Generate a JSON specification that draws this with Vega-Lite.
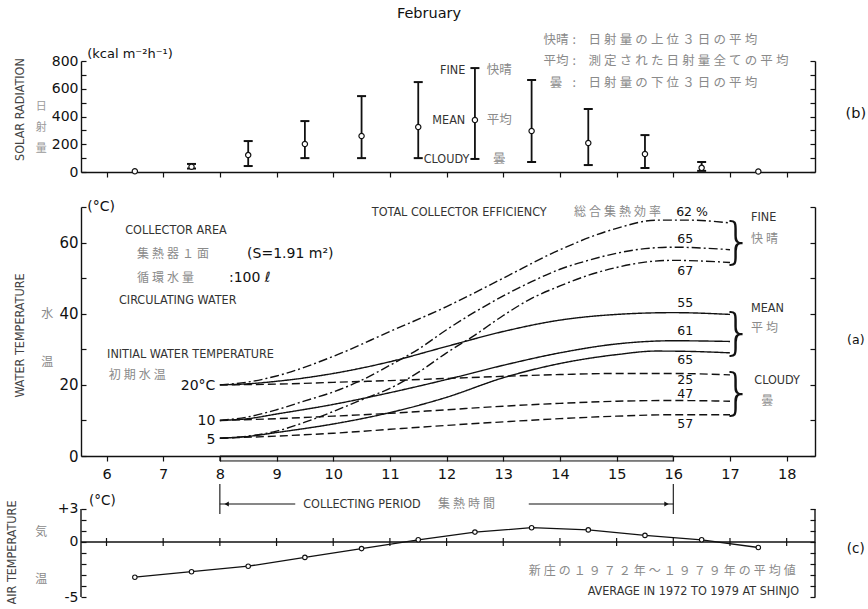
{
 "$schema": "https://vega.github.io/schema/vega-lite/v6.json",
 "background": "white",
 "padding": {"left": 5, "top": 5, "right": 0, "bottom": 0},
 "config": {
  "view": {"stroke": null},
  "font": "DejaVu Sans",
  "axis": {"grid": false, "domainColor": "#111", "tickColor": "#111", "labelColor": "#111", "labelFont": "DejaVu Sans", "labelFontSize": 14, "domainWidth": 1.4, "tickWidth": 1.2, "titleFont": "DejaVu Sans Condensed", "titleFontSize": 12.5, "titleFontWeight": "normal", "titleColor": "#444"}
 },
 "datasets": {
  "rad": [
   {"h":6.5,"mean":5,"lo":5,"hi":5},
   {"h":7.5,"mean":38,"lo":25,"hi":58},
   {"h":8.5,"mean":122,"lo":43,"hi":223},
   {"h":9.5,"mean":202,"lo":100,"hi":367},
   {"h":10.5,"mean":259,"lo":100,"hi":547},
   {"h":11.5,"mean":324,"lo":100,"hi":648},
   {"h":12.5,"mean":375,"lo":94,"hi":749},
   {"h":13.5,"mean":295,"lo":72,"hi":663},
   {"h":14.5,"mean":209,"lo":50,"hi":454},
   {"h":15.5,"mean":130,"lo":29,"hi":266},
   {"h":16.5,"mean":30,"lo":8,"hi":72},
   {"h":17.5,"mean":4,"lo":4,"hi":4}
  ],
  "curves": [
   {"h":8,"T":20,"s":"FINE","i":20},{"h":8.5,"T":20.8,"s":"FINE","i":20},{"h":9,"T":22.5,"s":"FINE","i":20},{"h":10,"T":28,"s":"FINE","i":20},{"h":11,"T":35,"s":"FINE","i":20},{"h":12,"T":42,"s":"FINE","i":20},{"h":13,"T":50,"s":"FINE","i":20},{"h":14,"T":58,"s":"FINE","i":20},{"h":15,"T":64,"s":"FINE","i":20},{"h":15.7,"T":66.3,"s":"FINE","i":20},{"h":16.3,"T":66.3,"s":"FINE","i":20},{"h":17,"T":65.5,"s":"FINE","i":20},
   {"h":8,"T":10,"s":"FINE","i":10},{"h":8.5,"T":11,"s":"FINE","i":10},{"h":9,"T":13,"s":"FINE","i":10},{"h":9.5,"T":15.5,"s":"FINE","i":10},{"h":10,"T":18,"s":"FINE","i":10},{"h":10.5,"T":21.3,"s":"FINE","i":10},{"h":11,"T":25.5,"s":"FINE","i":10},{"h":11.5,"T":30,"s":"FINE","i":10},{"h":12,"T":35.5,"s":"FINE","i":10},{"h":12.5,"T":40.5,"s":"FINE","i":10},{"h":13,"T":45,"s":"FINE","i":10},{"h":13.5,"T":49,"s":"FINE","i":10},{"h":14,"T":52.5,"s":"FINE","i":10},{"h":14.5,"T":55,"s":"FINE","i":10},{"h":15,"T":57,"s":"FINE","i":10},{"h":15.5,"T":58.3,"s":"FINE","i":10},{"h":16,"T":58.7,"s":"FINE","i":10},{"h":17,"T":58,"s":"FINE","i":10},
   {"h":8,"T":5,"s":"FINE","i":5},{"h":8.5,"T":5.6,"s":"FINE","i":5},{"h":9,"T":7,"s":"FINE","i":5},{"h":9.5,"T":9.5,"s":"FINE","i":5},{"h":10,"T":12.5,"s":"FINE","i":5},{"h":10.5,"T":15.8,"s":"FINE","i":5},{"h":11,"T":19,"s":"FINE","i":5},{"h":11.5,"T":23.5,"s":"FINE","i":5},{"h":12,"T":29,"s":"FINE","i":5},{"h":12.5,"T":34,"s":"FINE","i":5},{"h":13,"T":39.5,"s":"FINE","i":5},{"h":13.5,"T":44.3,"s":"FINE","i":5},{"h":14,"T":47.8,"s":"FINE","i":5},{"h":14.5,"T":50.8,"s":"FINE","i":5},{"h":15,"T":53,"s":"FINE","i":5},{"h":15.5,"T":54.5,"s":"FINE","i":5},{"h":16,"T":55,"s":"FINE","i":5},{"h":17,"T":54.4,"s":"FINE","i":5},
   {"h":8,"T":20,"s":"MEAN","i":20},{"h":8.5,"T":20.3,"s":"MEAN","i":20},{"h":9,"T":21,"s":"MEAN","i":20},{"h":10,"T":23.2,"s":"MEAN","i":20},{"h":11,"T":26.5,"s":"MEAN","i":20},{"h":12,"T":30.8,"s":"MEAN","i":20},{"h":13,"T":35,"s":"MEAN","i":20},{"h":14,"T":38.2,"s":"MEAN","i":20},{"h":15,"T":39.8,"s":"MEAN","i":20},{"h":16,"T":40.3,"s":"MEAN","i":20},{"h":17,"T":39.8,"s":"MEAN","i":20},
   {"h":8,"T":10,"s":"MEAN","i":10},{"h":8.5,"T":10.5,"s":"MEAN","i":10},{"h":9,"T":11.8,"s":"MEAN","i":10},{"h":10,"T":14.5,"s":"MEAN","i":10},{"h":11,"T":17.8,"s":"MEAN","i":10},{"h":12,"T":21.5,"s":"MEAN","i":10},{"h":13,"T":25.5,"s":"MEAN","i":10},{"h":14,"T":29,"s":"MEAN","i":10},{"h":15,"T":31.5,"s":"MEAN","i":10},{"h":16,"T":32.4,"s":"MEAN","i":10},{"h":17,"T":32.2,"s":"MEAN","i":10},
   {"h":8,"T":5,"s":"MEAN","i":5},{"h":8.5,"T":5.5,"s":"MEAN","i":5},{"h":9,"T":6.6,"s":"MEAN","i":5},{"h":10,"T":9,"s":"MEAN","i":5},{"h":11,"T":12.2,"s":"MEAN","i":5},{"h":12,"T":16.5,"s":"MEAN","i":5},{"h":13,"T":22,"s":"MEAN","i":5},{"h":14,"T":26,"s":"MEAN","i":5},{"h":15,"T":28.5,"s":"MEAN","i":5},{"h":15.7,"T":29.5,"s":"MEAN","i":5},{"h":16.3,"T":29.4,"s":"MEAN","i":5},{"h":17,"T":29,"s":"MEAN","i":5},
   {"h":8,"T":20,"s":"CLOUDY","i":20},{"h":9,"T":20.2,"s":"CLOUDY","i":20},{"h":10,"T":20.7,"s":"CLOUDY","i":20},{"h":11,"T":21.2,"s":"CLOUDY","i":20},{"h":12,"T":21.8,"s":"CLOUDY","i":20},{"h":13,"T":22.4,"s":"CLOUDY","i":20},{"h":14,"T":22.9,"s":"CLOUDY","i":20},{"h":15,"T":23.2,"s":"CLOUDY","i":20},{"h":16,"T":23.2,"s":"CLOUDY","i":20},{"h":17,"T":22.8,"s":"CLOUDY","i":20},
   {"h":8,"T":10,"s":"CLOUDY","i":10},{"h":9,"T":10.5,"s":"CLOUDY","i":10},{"h":10,"T":11.2,"s":"CLOUDY","i":10},{"h":11,"T":12,"s":"CLOUDY","i":10},{"h":12,"T":13,"s":"CLOUDY","i":10},{"h":13,"T":14,"s":"CLOUDY","i":10},{"h":14,"T":14.8,"s":"CLOUDY","i":10},{"h":15,"T":15.4,"s":"CLOUDY","i":10},{"h":16,"T":15.6,"s":"CLOUDY","i":10},{"h":17,"T":15.4,"s":"CLOUDY","i":10},
   {"h":8,"T":5,"s":"CLOUDY","i":5},{"h":9,"T":5.6,"s":"CLOUDY","i":5},{"h":10,"T":6.4,"s":"CLOUDY","i":5},{"h":11,"T":7.5,"s":"CLOUDY","i":5},{"h":12,"T":8.6,"s":"CLOUDY","i":5},{"h":13,"T":9.6,"s":"CLOUDY","i":5},{"h":14,"T":10.5,"s":"CLOUDY","i":5},{"h":15,"T":11.2,"s":"CLOUDY","i":5},{"h":16,"T":11.6,"s":"CLOUDY","i":5},{"h":17,"T":11.6,"s":"CLOUDY","i":5}
  ],
  "air": [
   {"h":6.5,"t":-3.2},{"h":7.5,"t":-2.7},{"h":8.5,"t":-2.2},{"h":9.5,"t":-1.4},{"h":10.5,"t":-0.6},{"h":11.5,"t":0.2},{"h":12.5,"t":0.9},{"h":13.5,"t":1.3},{"h":14.5,"t":1.1},{"h":15.5,"t":0.6},{"h":16.5,"t":0.2},{"h":17.5,"t":-0.5}
  ],
  "hours": [{"h":6},{"h":7},{"h":8},{"h":9},{"h":10},{"h":11},{"h":12},{"h":13},{"h":14},{"h":15},{"h":16},{"h":17},{"h":18}]
 },
 "spacing": 35,
 "bounds": "flush",
 "vconcat": [
    {
     "width": 734, "height": 111,
     "resolve": {"axis": {"x": "independent", "y": "independent"}},
     "layer": [
      {
       "data": {"name": "rad"},
       "mark": {"type": "rule", "strokeWidth": 1.8, "color": "#111"},
       "encoding": {
        "x": {"field": "h", "type": "quantitative", "scale": {"domain": [5.55, 18.5], "nice": false, "zero": false}, "axis": {"orient": "bottom", "values": [6,7,8,9,10,11,12,13,14,15,16,17,18], "labels": false, "tickSize": 5, "title": null}},
        "y": {"field": "lo", "type": "quantitative", "scale": {"domain": [0, 800], "nice": false}, "axis": {"orient": "left", "values": [0,100,200,300,400,500,600,700,800], "labelExpr": "datum.value % 200 == 0 ? datum.label : ''", "tickSize": -5, "labelPadding": 8, "title": "SOLAR RADIATION", "titleX": -62, "titleY": 48, "titleAngle": -90, "titleAlign": "center", "titleBaseline": "middle"}},
        "y2": {"field": "hi"}
       }
      },
      {
       "data": {"name": "rad"},
       "transform": [{"filter": "datum.hi > datum.lo"}],
       "mark": {"type": "tick", "orient": "horizontal", "size": 9, "thickness": 2, "opacity": 1, "color": "#111"},
       "encoding": {
        "x": {"field": "h", "type": "quantitative", "scale": {"domain": [5.55, 18.5], "nice": false, "zero": false}, "axis": null},
        "y": {"field": "hi", "type": "quantitative", "scale": {"domain": [0, 800], "nice": false}, "axis": {"orient": "right", "values": [0,100,200,300,400,500,600,700,800], "labels": false, "tickSize": -5, "title": null}}
       }
      },
      {
       "data": {"name": "rad"},
       "transform": [{"filter": "datum.hi > datum.lo"}],
       "mark": {"type": "tick", "orient": "horizontal", "size": 9, "thickness": 2, "opacity": 1, "color": "#111"},
       "encoding": {
        "x": {"field": "h", "type": "quantitative", "scale": {"domain": [5.55, 18.5], "nice": false, "zero": false}, "axis": null},
        "y": {"field": "lo", "type": "quantitative", "scale": {"domain": [0, 800], "nice": false}, "axis": null}
       }
      },
      {
       "data": {"name": "rad"},
       "mark": {"type": "point", "shape": "circle", "filled": true, "fill": "white", "stroke": "#111", "strokeWidth": 1.2, "size": 28, "opacity": 1},
       "encoding": {
        "x": {"field": "h", "type": "quantitative", "scale": {"domain": [5.55, 18.5], "nice": false, "zero": false}, "axis": null},
        "y": {"field": "mean", "type": "quantitative", "scale": {"domain": [0, 800], "nice": false}, "axis": null}
       }
      },
      {
       "data": {"values": [{"x": 12.33, "y": 735, "t": "FINE"}, {"x": 12.33, "y": 375, "t": "MEAN"}, {"x": 12.40, "y": 94, "t": "CLOUDY"}]},
       "mark": {"type": "text", "align": "right", "baseline": "middle", "font": "DejaVu Sans Condensed", "fontSize": 12.5, "color": "#333"},
       "encoding": {
        "x": {"field": "x", "type": "quantitative", "scale": {"domain": [5.55, 18.5], "nice": false, "zero": false}, "axis": null},
        "y": {"field": "y", "type": "quantitative", "scale": {"domain": [0, 800], "nice": false}, "axis": null},
        "text": {"field": "t"}
       }
      },
      {
       "data": {"values": [{"x": 12.71, "y": 735, "t": "快晴"}, {"x": 12.71, "y": 375, "t": "平均"}, {"x": 12.82, "y": 94, "t": "曇"}]},
       "mark": {"type": "text", "align": "left", "baseline": "middle", "font": "Noto Sans CJK JP", "fontSize": 12.5, "color": "#8a8a8a"},
       "encoding": {
        "x": {"field": "x", "type": "quantitative", "scale": {"domain": [5.55, 18.5], "nice": false, "zero": false}, "axis": null},
        "y": {"field": "y", "type": "quantitative", "scale": {"domain": [0, 800], "nice": false}, "axis": null},
        "text": {"field": "t"}
       }
      },
      {
       "data": {"values": [{"x": 13.93, "y": 951, "t": "快晴"}, {"x": 13.93, "y": 800, "t": "平均"}, {"x": 13.93, "y": 641, "t": "曇"}]},
       "mark": {"type": "text", "align": "center", "baseline": "middle", "font": "Noto Sans CJK JP", "fontSize": 12.5, "color": "#8a8a8a"},
       "encoding": {
        "x": {"field": "x", "type": "quantitative", "scale": {"domain": [5.55, 18.5], "nice": false, "zero": false}, "axis": null},
        "y": {"field": "y", "type": "quantitative", "scale": {"domain": [0, 800], "nice": false}, "axis": null},
        "text": {"field": "t"}
       }
      },
      {
       "data": {"values": [
        {"x": 14.22, "y": 951, "t": ":\u2003日\u2005射\u2005量\u2005の\u2005上\u2005位\u2005３\u2005日\u2005の\u2005平\u2005均"},
        {"x": 14.22, "y": 800, "t": ":\u2003測\u2005定\u2005さ\u2005れ\u2005た\u2005日\u2005射\u2005量\u2005全\u2005て\u2005の\u2005平\u2005均"},
        {"x": 14.22, "y": 641, "t": ":\u2003日\u2005射\u2005量\u2005の\u2005下\u2005位\u2005３\u2005日\u2005の\u2005平\u2005均"}
       ]},
       "mark": {"type": "text", "align": "left", "baseline": "middle", "font": "Noto Sans CJK JP", "fontSize": 12.5, "color": "#8a8a8a"},
       "encoding": {
        "x": {"field": "x", "type": "quantitative", "scale": {"domain": [5.55, 18.5], "nice": false, "zero": false}, "axis": null},
        "y": {"field": "y", "type": "quantitative", "scale": {"domain": [0, 800], "nice": false}, "axis": null},
        "text": {"field": "t"}
       }
      },
      {
       "data": {"values": [{"x": 5.66, "y": 850, "t": "(kcal  m⁻²h⁻¹)"}]},
       "mark": {"type": "text", "align": "left", "baseline": "middle", "fontSize": 13, "color": "#111"},
       "encoding": {
        "x": {"field": "x", "type": "quantitative", "scale": {"domain": [5.55, 18.5], "nice": false, "zero": false}, "axis": null},
        "y": {"field": "y", "type": "quantitative", "scale": {"domain": [0, 800], "nice": false}, "axis": null},
        "text": {"field": "t"}
       }
      },
      {
       "data": {"values": [{"x": 11.69, "y": 1139, "t": "February"}, {"x": 19.22, "y": 418, "t": "(b)"}]},
       "mark": {"type": "text", "align": "center", "baseline": "middle", "fontSize": 14.5, "color": "#111"},
       "encoding": {
        "x": {"field": "x", "type": "quantitative", "scale": {"domain": [5.55, 18.5], "nice": false, "zero": false}, "axis": null},
        "y": {"field": "y", "type": "quantitative", "scale": {"domain": [0, 800], "nice": false}, "axis": null},
        "text": {"field": "t"}
       }
      },
      {
       "data": {"values": [{"x": 4.85, "y": 468, "t": ["日", "射", "量"]}]},
       "mark": {"type": "text", "align": "center", "baseline": "middle", "font": "Noto Sans CJK JP", "fontSize": 11, "lineHeight": 21, "color": "#9a9a9a"},
       "encoding": {
        "x": {"field": "x", "type": "quantitative", "scale": {"domain": [5.55, 18.5], "nice": false, "zero": false}, "axis": null},
        "y": {"field": "y", "type": "quantitative", "scale": {"domain": [0, 800], "nice": false}, "axis": null},
        "text": {"field": "t"}
       }
      }
     ]
    },
    {
     "width": 734, "height": 249,
     "resolve": {"axis": {"x": "independent", "y": "independent"}},
     "layer": [
      {
       "data": {"name": "curves"},
       "mark": {"type": "line", "interpolate": "monotone", "strokeWidth": 1.4, "color": "#111"},
       "encoding": {
        "x": {"field": "h", "type": "quantitative", "scale": {"domain": [5.55, 18.5], "nice": false, "zero": false}, "axis": {"orient": "bottom", "values": [6,7,8,9,10,11,12,13,14,15,16,17,18], "tickSize": 5, "labelPadding": 6, "labelFontSize": 14.5, "title": null, "zindex": 1}},
        "y": {"field": "T", "type": "quantitative", "scale": {"domain": [0, 70], "nice": false}, "axis": {"orient": "left", "values": [0,10,20,30,40,50,60,70], "labelExpr": "datum.value % 20 == 0 && datum.value < 70 ? datum.label : ''", "tickSize": -5, "labelPadding": 8, "labelFontSize": 15, "title": "WATER TEMPERATURE", "titleX": -62, "titleY": 128, "titleAngle": -90, "titleAlign": "center", "titleBaseline": "middle"}},
        "detail": [{"field": "s"}, {"field": "i"}],
        "strokeDash": {"field": "s", "type": "nominal", "scale": {"domain": ["FINE", "MEAN", "CLOUDY"], "range": [[9, 3, 2, 3], [1, 0], [8, 4]]}, "legend": null}
       }
      },
      {
       "data": {"values": [{}]},
       "mark": {"type": "rect", "fill": "#eeeeee", "stroke": "#111", "strokeWidth": 1},
       "encoding": {
        "x": {"datum": 8, "type": "quantitative", "scale": {"domain": [5.55, 18.5], "nice": false, "zero": false}, "axis": null},
        "x2": {"datum": 16},
        "y": {"datum": 0, "type": "quantitative", "scale": {"domain": [0, 70], "nice": false}, "axis": {"orient": "right", "values": [0,10,20,30,40,50,60,70], "labels": false, "tickSize": -5, "title": null}},
        "y2": {"datum": -1.4}
       }
      },
      {
       "data": {"values": [
        {"x": 6.33, "y": 63.5, "t": "COLLECTOR AREA"},
        {"x": 6.22, "y": 43.9, "t": "CIRCULATING WATER"},
        {"x": 6.01, "y": 28.6, "t": "INITIAL WATER TEMPERATURE"},
        {"x": 10.68, "y": 68.6, "t": "TOTAL COLLECTOR EFFICIENCY"},
        {"x": 17.37, "y": 67.1, "t": "FINE"},
        {"x": 17.37, "y": 41.6, "t": "MEAN"},
        {"x": 17.43, "y": 21.5, "t": "CLOUDY"}
       ]},
       "mark": {"type": "text", "align": "left", "baseline": "middle", "font": "DejaVu Sans Condensed", "fontSize": 12.5, "color": "#333"},
       "encoding": {
        "x": {"field": "x", "type": "quantitative", "scale": {"domain": [5.55, 18.5], "nice": false, "zero": false}, "axis": null},
        "y": {"field": "y", "type": "quantitative", "scale": {"domain": [0, 70], "nice": false}, "axis": null},
        "text": {"field": "t"}
       }
      },
      {
       "data": {"values": [
        {"x": 6.54, "y": 56.7, "t": "集\u2005熱\u2005器\u2005１\u2005面"},
        {"x": 6.54, "y": 50.1, "t": "循\u2005環\u2005水\u2005量"},
        {"x": 6.04, "y": 22.9, "t": "初\u2005期\u2005水\u2005温"},
        {"x": 14.25, "y": 68.6, "t": "総\u2005合\u2005集\u2005熱\u2005効\u2005率"},
        {"x": 17.37, "y": 60.9, "t": "快\u2005晴"},
        {"x": 17.37, "y": 36.0, "t": "平\u2005均"},
        {"x": 17.55, "y": 15.6, "t": "曇"},
        {"x": 4.85, "y": 40.0, "t": "水"},
        {"x": 4.85, "y": 26.5, "t": "温"}
       ]},
       "mark": {"type": "text", "align": "left", "baseline": "middle", "font": "Noto Sans CJK JP", "fontSize": 12, "color": "#8a8a8a"},
       "encoding": {
        "x": {"field": "x", "type": "quantitative", "scale": {"domain": [5.55, 18.5], "nice": false, "zero": false}, "axis": null},
        "y": {"field": "y", "type": "quantitative", "scale": {"domain": [0, 70], "nice": false}, "axis": null},
        "text": {"field": "t"}
       }
      },
      {
       "data": {"values": [
        {"x": 16.33, "y": 68.6, "t": "62  %"},
        {"x": 16.21, "y": 60.9, "t": "65"},
        {"x": 16.21, "y": 52.1, "t": "67"},
        {"x": 16.21, "y": 43.1, "t": "55"},
        {"x": 16.21, "y": 35.1, "t": "61"},
        {"x": 16.21, "y": 26.9, "t": "65"},
        {"x": 16.21, "y": 21.4, "t": "25"},
        {"x": 16.21, "y": 17.4, "t": "47"},
        {"x": 16.21, "y": 9.1, "t": "57"},
        {"x": 19.22, "y": 32.6, "t": "(a)"}
       ]},
       "mark": {"type": "text", "align": "center", "baseline": "middle", "fontSize": 12.5, "color": "#111"},
       "encoding": {
        "x": {"field": "x", "type": "quantitative", "scale": {"domain": [5.55, 18.5], "nice": false, "zero": false}, "axis": null},
        "y": {"field": "y", "type": "quantitative", "scale": {"domain": [0, 70], "nice": false}, "axis": null},
        "text": {"field": "t"}
       }
      },
      {
       "data": {"values": [
        {"x": 7.92, "y": 19.6, "t": "20°C"},
        {"x": 7.92, "y": 9.8, "t": "10"},
        {"x": 7.92, "y": 4.6, "t": "5"}
       ]},
       "mark": {"type": "text", "align": "right", "baseline": "middle", "fontSize": 14, "color": "#111"},
       "encoding": {
        "x": {"field": "x", "type": "quantitative", "scale": {"domain": [5.55, 18.5], "nice": false, "zero": false}, "axis": null},
        "y": {"field": "y", "type": "quantitative", "scale": {"domain": [0, 70], "nice": false}, "axis": null},
        "text": {"field": "t"}
       }
      },
      {
       "data": {"values": [
        {"x": 5.66, "y": 70, "t": "(°C)"},
        {"x": 8.48, "y": 56.7, "t": "(S=1.91 m²)"},
        {"x": 8.16, "y": 50.1, "t": ":100 ℓ"}
       ]},
       "mark": {"type": "text", "align": "left", "baseline": "middle", "fontSize": 14, "color": "#111"},
       "encoding": {
        "x": {"field": "x", "type": "quantitative", "scale": {"domain": [5.55, 18.5], "nice": false, "zero": false}, "axis": null},
        "y": {"field": "y", "type": "quantitative", "scale": {"domain": [0, 70], "nice": false}, "axis": null},
        "text": {"field": "t"}
       }
      },
      {
       "data": {"values": [
        {"x": 17.12, "y": 59.8, "t": "}"},
        {"x": 17.12, "y": 34.3, "t": "}"},
        {"x": 17.12, "y": 17.3, "t": "}"}
       ]},
       "mark": {"type": "text", "align": "center", "baseline": "middle", "fontSize": 50, "fontWeight": 200, "color": "#111"},
       "encoding": {
        "x": {"field": "x", "type": "quantitative", "scale": {"domain": [5.55, 18.5], "nice": false, "zero": false}, "axis": null},
        "y": {"field": "y", "type": "quantitative", "scale": {"domain": [0, 70], "nice": false}, "axis": null},
        "text": {"field": "t"}
       }
      }
     ]
    },
  {
   "width": 734, "height": 106,
   "resolve": {"axis": {"x": "independent", "y": "independent"}},
   "layer": [
    {
     "data": {"values": [{}]},
     "mark": {"type": "rule", "color": "#111", "strokeWidth": 1.4},
     "encoding": {
      "y": {"datum": 0, "type": "quantitative", "scale": {"domain": [-5, 4.636], "nice": false, "zero": false}, "axis": null}
     }
    },
    {
     "data": {"values": [{}]},
     "mark": {"type": "rule", "color": "#111", "strokeWidth": 1.4},
     "encoding": {
      "x": {"datum": 5.55, "type": "quantitative", "scale": {"domain": [5.55, 18.5], "nice": false, "zero": false}, "axis": null},
      "y": {"datum": -5, "type": "quantitative", "scale": {"domain": [-5, 4.636], "nice": false, "zero": false}, "axis": null},
      "y2": {"datum": 3}
     }
    },
    {
     "data": {"values": [{}]},
     "mark": {"type": "rule", "color": "#111", "strokeWidth": 1.4},
     "encoding": {
      "x": {"datum": 18.5, "type": "quantitative", "scale": {"domain": [5.55, 18.5], "nice": false, "zero": false}, "axis": null},
      "y": {"datum": -5, "type": "quantitative", "scale": {"domain": [-5, 4.636], "nice": false, "zero": false}, "axis": null},
      "y2": {"datum": 3}
     }
    },
    {
     "data": {"name": "hours"},
     "mark": {"type": "tick", "orient": "vertical", "size": 8, "thickness": 1.2, "opacity": 1, "color": "#111"},
     "encoding": {
      "x": {"field": "h", "type": "quantitative", "scale": {"domain": [5.55, 18.5], "nice": false, "zero": false}, "axis": null},
      "y": {"datum": 0, "type": "quantitative", "scale": {"domain": [-5, 4.636], "nice": false, "zero": false}, "axis": {"orient": "right", "domain": false, "values": [-5,-4,-3,-2,-1,0,1,2,3], "labels": false, "tickSize": -5, "title": null}}
     }
    },
    {
     "data": {"name": "air"},
     "mark": {"type": "line", "strokeWidth": 1.3, "color": "#111"},
     "encoding": {
      "x": {"field": "h", "type": "quantitative", "scale": {"domain": [5.55, 18.5], "nice": false, "zero": false}, "axis": null},
      "y": {"field": "t", "type": "quantitative", "scale": {"domain": [-5, 4.636], "nice": false, "zero": false}, "axis": {"orient": "left", "domain": false, "values": [-5,-4,-3,-2,-1,0,1,2,3], "labelExpr": "datum.value == 3 ? '+3' : datum.value == 0 ? '0' : datum.value == -5 ? '-5' : ''", "tickSize": -5, "labelPadding": 8, "title": "AIR TEMPERATURE", "titleX": -70, "titleY": 61, "titleAngle": -90, "titleAlign": "center", "titleBaseline": "middle"}}
     }
    },
    {
     "data": {"name": "air"},
     "mark": {"type": "point", "shape": "circle", "filled": true, "fill": "white", "stroke": "#111", "strokeWidth": 1.1, "size": 20, "opacity": 1},
     "encoding": {
      "x": {"field": "h", "type": "quantitative", "scale": {"domain": [5.55, 18.5], "nice": false, "zero": false}, "axis": null},
      "y": {"field": "t", "type": "quantitative", "scale": {"domain": [-5, 4.636], "nice": false, "zero": false}, "axis": null}
     }
    },
    {
     "data": {"values": [{}]},
     "mark": {"type": "rule", "color": "#111", "strokeWidth": 1.1},
     "encoding": {
      "x": {"datum": 8, "type": "quantitative", "scale": {"domain": [5.55, 18.5], "nice": false, "zero": false}, "axis": null},
      "y": {"datum": 5.27, "type": "quantitative", "scale": {"domain": [-5, 4.636], "nice": false, "zero": false}, "axis": null},
      "y2": {"datum": 2.55}
     }
    },
    {
     "data": {"values": [{}]},
     "mark": {"type": "rule", "color": "#111", "strokeWidth": 1.1},
     "encoding": {
      "x": {"datum": 16, "type": "quantitative", "scale": {"domain": [5.55, 18.5], "nice": false, "zero": false}, "axis": null},
      "y": {"datum": 5.27, "type": "quantitative", "scale": {"domain": [-5, 4.636], "nice": false, "zero": false}, "axis": null},
      "y2": {"datum": 2.55}
     }
    },
    {
     "data": {"values": [{}]},
     "mark": {"type": "rule", "color": "#111", "strokeWidth": 1.1},
     "encoding": {
      "x": {"datum": 8, "type": "quantitative", "scale": {"domain": [5.55, 18.5], "nice": false, "zero": false}, "axis": null},
      "x2": {"datum": 9.33},
      "y": {"datum": 3.45, "type": "quantitative", "scale": {"domain": [-5, 4.636], "nice": false, "zero": false}, "axis": null}
     }
    },
    {
     "data": {"values": [{}]},
     "mark": {"type": "rule", "color": "#111", "strokeWidth": 1.1},
     "encoding": {
      "x": {"datum": 13.45, "type": "quantitative", "scale": {"domain": [5.55, 18.5], "nice": false, "zero": false}, "axis": null},
      "x2": {"datum": 16},
      "y": {"datum": 3.45, "type": "quantitative", "scale": {"domain": [-5, 4.636], "nice": false, "zero": false}, "axis": null}
     }
    },
    {
     "data": {"values": [{}]},
     "mark": {"type": "point", "shape": "triangle-left", "filled": true, "color": "#111", "size": 25, "opacity": 1},
     "encoding": {
      "x": {"datum": 8.12, "type": "quantitative", "scale": {"domain": [5.55, 18.5], "nice": false, "zero": false}, "axis": null},
      "y": {"datum": 3.45, "type": "quantitative", "scale": {"domain": [-5, 4.636], "nice": false, "zero": false}, "axis": null}
     }
    },
    {
     "data": {"values": [{}]},
     "mark": {"type": "point", "shape": "triangle-right", "filled": true, "color": "#111", "size": 25, "opacity": 1},
     "encoding": {
      "x": {"datum": 15.88, "type": "quantitative", "scale": {"domain": [5.55, 18.5], "nice": false, "zero": false}, "axis": null},
      "y": {"datum": 3.45, "type": "quantitative", "scale": {"domain": [-5, 4.636], "nice": false, "zero": false}, "axis": null}
     }
    },
    {
     "data": {"values": [
      {"x": 9.47, "y": 3.45, "t": "COLLECTING PERIOD", "a": "left"},
      {"x": 18.22, "y": -4.45, "t": "AVERAGE IN 1972 TO 1979 AT SHINJO", "a": "right"}
     ]},
     "mark": {"type": "text", "baseline": "middle", "font": "DejaVu Sans Condensed", "fontSize": 12.5, "color": "#333", "align": {"expr": "datum.a"}},
     "encoding": {
      "x": {"field": "x", "type": "quantitative", "scale": {"domain": [5.55, 18.5], "nice": false, "zero": false}, "axis": null},
      "y": {"field": "y", "type": "quantitative", "scale": {"domain": [-5, 4.636], "nice": false, "zero": false}, "axis": null},
      "text": {"field": "t"}
     }
    },
    {
     "data": {"values": [
      {"x": 11.85, "y": 3.45, "t": "集\u2005熱\u2005時\u2005間", "a": "left"},
      {"x": 18.16, "y": -2.64, "t": "新\u2005庄\u2005の\u2005１\u2005９\u2005７\u2005２\u2005年\u2005～\u2005１\u2005９\u2005７\u2005９\u2005年\u2005の\u2005平\u2005均\u2005値", "a": "right"},
      {"x": 4.85, "y": 0.9, "t": "気", "a": "center"},
      {"x": 4.85, "y": -3.4, "t": "温", "a": "center"}
     ]},
     "mark": {"type": "text", "baseline": "middle", "font": "Noto Sans CJK JP", "fontSize": 12, "color": "#8a8a8a", "align": {"expr": "datum.a"}},
     "encoding": {
      "x": {"field": "x", "type": "quantitative", "scale": {"domain": [5.55, 18.5], "nice": false, "zero": false}, "axis": null},
      "y": {"field": "y", "type": "quantitative", "scale": {"domain": [-5, 4.636], "nice": false, "zero": false}, "axis": null},
      "text": {"field": "t"}
     }
    },
    {
     "data": {"values": [
      {"x": 5.69, "y": 3.7, "t": "(°C)", "a": "left"},
      {"x": 19.22, "y": -0.64, "t": "(c)", "a": "center"}
     ]},
     "mark": {"type": "text", "baseline": "middle", "fontSize": 13.5, "color": "#111", "align": {"expr": "datum.a"}},
     "encoding": {
      "x": {"field": "x", "type": "quantitative", "scale": {"domain": [5.55, 18.5], "nice": false, "zero": false}, "axis": null},
      "y": {"field": "y", "type": "quantitative", "scale": {"domain": [-5, 4.636], "nice": false, "zero": false}, "axis": null},
      "text": {"field": "t"}
     }
    }
   ]
  }
 ]
}
